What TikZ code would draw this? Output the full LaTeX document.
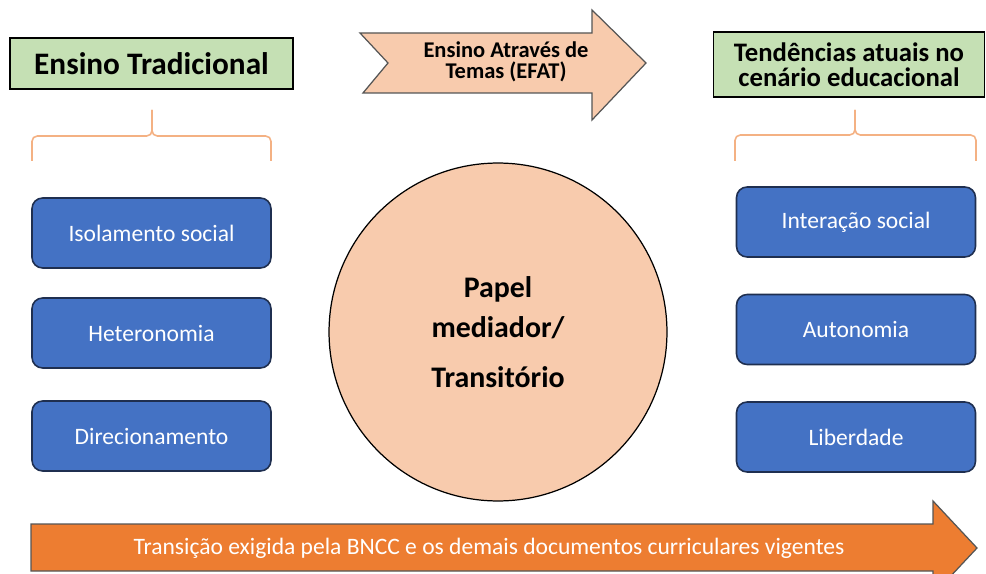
\documentclass[tikz,border=0pt]{standalone}
\usepackage{fontspec}
\setmainfont{Carlito}
\usepackage{xcolor}
\usepackage{tikz}
\definecolor{title-green}{RGB}{197,224,180}
\definecolor{efat-peach}{RGB}{248,203,173}
\definecolor{item-blue}{RGB}{68,114,196}
\definecolor{item-border}{RGB}{31,47,80}
\definecolor{bncc-orange}{RGB}{237,125,49}
\definecolor{brace-orange}{RGB}{244,177,131}
\definecolor{shape-border}{RGB}{85,85,85}

\begin{document}
\begin{tikzpicture}[x=0.02cm, y=-0.02cm,
  titlebox/.style={draw=black, line width=0.9pt, fill=title-green, align=center, inner sep=0pt},
  itembox/.style={draw=item-border, line width=0.9pt, fill=item-blue, text=white, rounded corners=6pt,
    minimum width=4.78cm, minimum height=1.4cm, font=\fontsize{13.4}{15}\selectfont},
  bracket/.style={brace-orange, line width=0.9pt, rounded corners=3pt},
  arrowshape/.style={draw=shape-border, line width=0.7pt}]
\useasboundingbox (0,0) rectangle (986,574);
\clip (0,0) rectangle (986,574);

% titles
\node[titlebox, minimum width=5.66cm, minimum height=1.02cm,
  font=\fontsize{17.8}{20}\selectfont\bfseries] (trad_title) at (151.5,63.5) {Ensino Tradicional};
\node[titlebox, minimum width=5.42cm, minimum height=1.3cm,
  font=\fontsize{15.2}{14.3}\selectfont\bfseries] (tend_title) at (849,64.5) {Tendências atuais no\\cenário educacional};

% EFAT arrow
\draw[arrowshape, fill=efat-peach] (360,33) -- (592,33) -- (592,10) -- (646,63) -- (592,120)
  -- (592,93) -- (363,93) -- (388,63) -- cycle;
\node[align=center, font=\fontsize{12.8}{11.6}\selectfont\bfseries] (efat_text) at (506,62) {Ensino Através de\\Temas (EFAT)};

% braces
\draw[bracket] (32,161) |- (152,136) -- (152,110);
\draw[bracket] (271,161) |- (152,136) -- (152,110);
\draw[bracket] (735,161) |- (855,135) -- (855,110);
\draw[bracket] (976,161) |- (855,135) -- (855,110);

% ensino tradicional
\node[itembox] (trad_iso) at (151.5,233) {Isolamento social};
\node[itembox] (trad_het) at (151.5,333) {Heteronomia};
\node[itembox] (trad_dir) at (151.5,436) {Direcionamento};

% tendencias atuais
\node[itembox] (tend_int) at (856,222) {Interação social};
\node[itembox] (tend_aut) at (856,329.5) {Autonomia};
\node[itembox] (tend_lib) at (856,437) {Liberdade};

% papel mediador
\node[circle, draw=black, line width=0.7pt, fill=efat-peach, minimum size=6.76cm, align=center,
  font=\fontsize{17}{22.8}\selectfont\bfseries] (mediador) at (498,332) {Papel\\mediador/\\[5.6pt]Transitório};

% BNCC arrow
\draw[arrowshape, fill=bncc-orange] (31,524) -- (933,524) -- (933,501) -- (977,548) -- (933,595)
  -- (933,571) -- (31,571) -- cycle;
\node[text=white, font=\fontsize{13.4}{15}\selectfont] (bncc_text) at (489,548)
  {Transição exigida pela BNCC e os demais documentos curriculares vigentes};
\end{tikzpicture}
\end{document}
